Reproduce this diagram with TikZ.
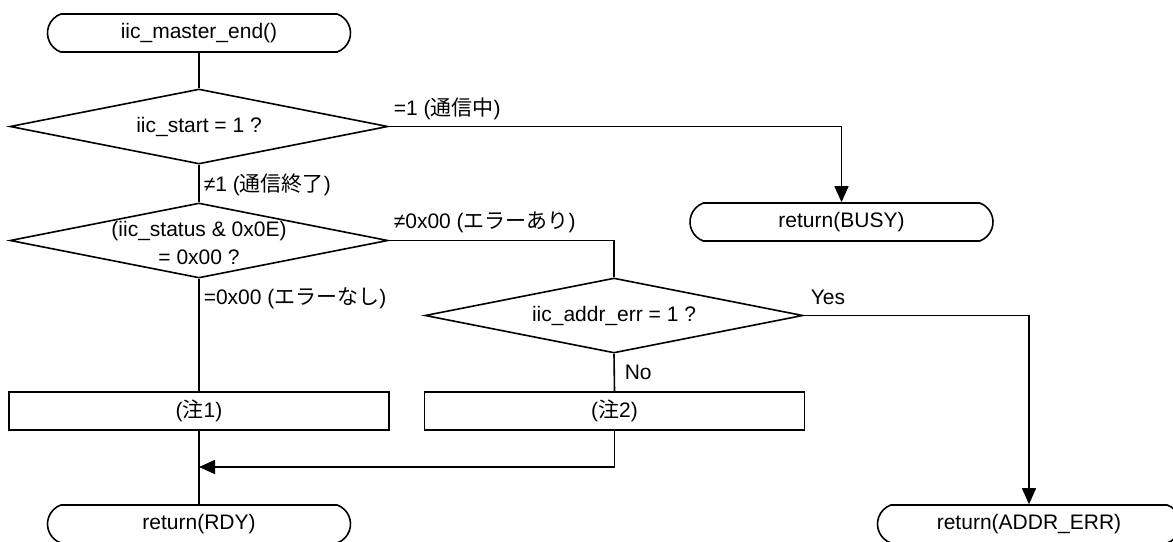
\documentclass[tikz,border=0pt]{standalone}
\usepackage{fontspec}
\setmainfont{Liberation Sans}
\newfontfamily\jp{Noto Sans CJK JP}
\usetikzlibrary{shapes.geometric,shapes.misc,arrows.meta}
\begin{document}
\begin{tikzpicture}[x=1pt,y=-1pt, line width=1.6pt,
  every node/.style={font=\fontsize{21}{24}\selectfont},
  term/.style={draw, rounded rectangle, rounded rectangle arc length=140, minimum width=303pt, minimum height=38pt, inner sep=0pt},
  dia/.style={draw, diamond, minimum width=378pt, minimum height=75pt, inner sep=0pt},
  proc/.style={draw, rectangle, minimum width=380pt, minimum height=38pt, inner sep=0pt},
  lbl/.style={anchor=west, inner sep=0pt},
  arr/.style={-{Triangle[length=16pt,width=14pt]}}]
\useasboundingbox (0,0) rectangle (1173,541);
\node[term] (t1) at (199,33) {iic\_master\_end()};
\node[dia] (d1) at (199,126.5) {};
\node (d1t) at (d1) {iic\_start = 1 ?};
\node[dia] (d2) at (199,240.5) {};
\node[align=center, font=\fontsize{21}{28}\selectfont] (d2t) at ([yshift=-2pt]d2.center) {(iic\_status \& 0x0E)\\= 0x00 ?};
\node[term] (busy) at (841.5,222) {return(BUSY)};
\node[dia] (d3) at (614,315.5) {};
\node (d3t) at (d3) {iic\_addr\_err = 1 ?};
\node[proc] (p1) at (199,411) {({\jp 注}1)};
\node[proc] (p2) at (614.5,411) {({\jp 注}2)};
\node[term] (rdy) at (199,524) {return(RDY)};
\node[term] (aerr) at (1029,524) {return(ADDR\_ERR)};
\coordinate (m) at (199,467);
\draw (t1.south) -- (d1.north);
\draw (d1.south) -- (d2.north);
\draw[arr] (d1.east) -| (busy.north);
\draw (d2.east) -| (d3.north);
\draw (d2.south) -- (p1.north);
\draw (p1.south) -- (rdy.north);
\draw (d3.south) -- (p2.north);
\draw[arr] (p2.south) |- (m);
\draw[arr] (d3.east) -| (aerr.north);
\node[lbl] (l1) at (393,109) {=1 ({\jp 通信中})};
\node[lbl] (l2) at (393,222) {≠0x00 ({\jp エラーあり})};
\node[lbl] (l3) at (203,185) {≠1 ({\jp 通信終了})};
\node[lbl] (l4) at (203,298) {=0x00 ({\jp エラーなし})};
\node[lbl] (l5) at (810,297) {Yes};
\node[lbl] (l6) at (624,372) {No};
\end{tikzpicture}
\end{document}
